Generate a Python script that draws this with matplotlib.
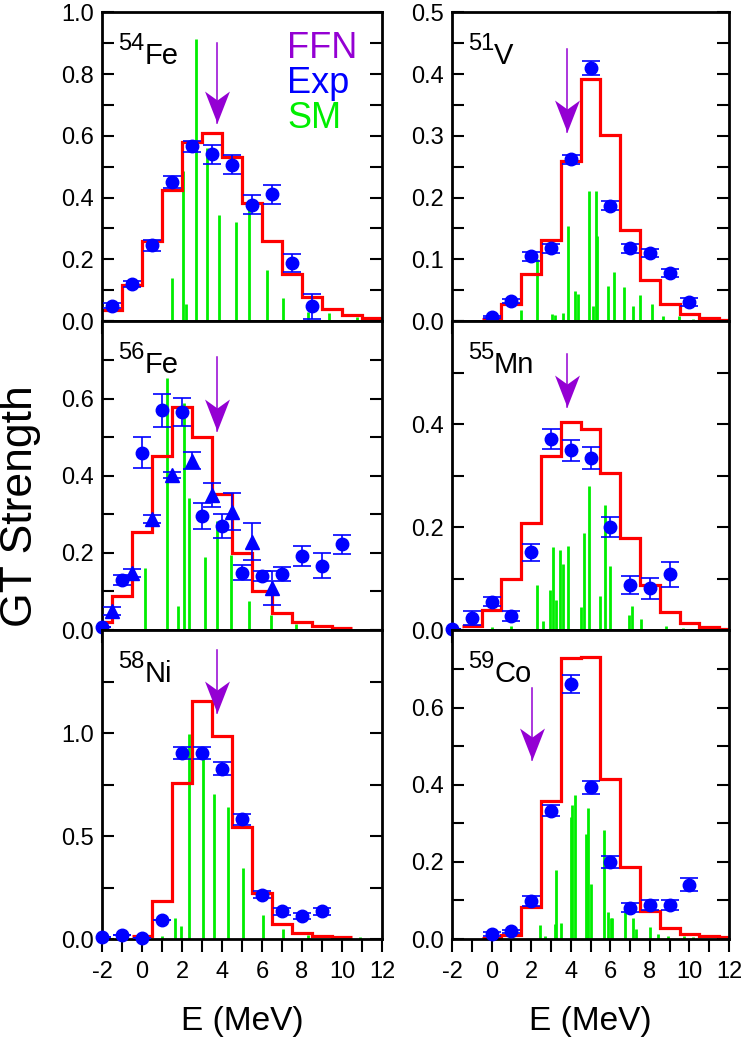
import numpy as np
import matplotlib
matplotlib.use("Agg")
import matplotlib.pyplot as plt
from matplotlib.path import Path
from matplotlib.ticker import MultipleLocator, FormatStrFormatter

plt.rcParams['font.family'] = ['Liberation Sans', 'DejaVu Sans']
plt.rcParams['axes.unicode_minus'] = False

# warna
RED = '#ff0000'
BLUE = '#0000ff'
GREEN = '#00ee00'
PURPLE = '#9400d3'

# ---------------- 54Fe ----------------
fe54_edges = [-2, -1, 0, 1, 2, 3, 4, 5, 6, 7, 8, 9, 10, 11, 12]
fe54_hist = [0.037, 0.116, 0.26, 0.423, 0.579, 0.61, 0.53, 0.384, 0.26, 0.151, 0.079, 0.038, 0.018, 0.01]
fe54_exp_x = [-1.5, -0.5, 0.5, 1.5, 2.5, 3.5, 4.5, 5.5, 6.5, 7.5, 8.5]
fe54_exp_y = [0.05, 0.12, 0.245, 0.45, 0.566, 0.54, 0.507, 0.377, 0.41, 0.188, 0.048]
fe54_exp_err = [0.008, 0.01, 0.018, 0.02, 0.018, 0.03, 0.03, 0.03, 0.03, 0.03, 0.04]
fe54_sm_x = [1.52, 2.03, 2.2, 2.68, 3.23, 3.85, 4.7, 5.37, 6.23, 7.07, 8.32, 9.37, 10.73]
fe54_sm_y = [0.138, 0.485, 0.054, 0.915, 0.561, 0.344, 0.322, 0.366, 0.165, 0.075, 0.03, 0.026, 0.013]
fe54_ffn = [3.77, 0.90, 0.642]   # x, pangkal, ujung panah
fe54_yticks = [0.0, 0.2, 0.4, 0.6, 0.8, 1.0]

# ---------------- 51V ----------------
v51_edges = [-0.5, 0.5, 1.5, 2.5, 3.5, 4.5, 5.5, 6.5, 7.5, 8.5, 9.5, 10.5, 11.5, 12]
v51_hist = [0.004, 0.027, 0.076, 0.131, 0.259, 0.392, 0.302, 0.148, 0.067, 0.028, 0.012, 0.005, 0.002]
v51_exp_x = [0, 1, 2, 3, 4, 5, 6, 7, 8, 9, 10]
v51_exp_y = [0.0065, 0.033, 0.105, 0.118, 0.262, 0.41, 0.187, 0.118, 0.11, 0.078, 0.031]
v51_exp_err = [0.002, 0.003, 0.007, 0.007, 0.007, 0.011, 0.007, 0.007, 0.007, 0.006, 0.006]
v51_sm_x = [1.51, 2.32, 3.03, 3.19, 3.63, 3.88, 4.22, 4.37, 4.92, 5.14, 5.26, 5.34, 5.88, 6.18,
            6.69, 7.14, 7.5, 8.13, 8.67, 9.46, 10.2]
v51_sm_y = [0.018, 0.101, 0.012, 0.009, 0.013, 0.154, 0.048, 0.044, 0.211, 0.025, 0.211, 0.138, 0.057, 0.079,
            0.055, 0.025, 0.043, 0.027, 0.008, 0.008, 0.004]
v51_ffn = [3.83, 0.44, 0.307]
v51_yticks = [0.0, 0.1, 0.2, 0.3, 0.4, 0.5]

# ---------------- 56Fe ----------------
fe56_edges = [-2, -1.5, -0.5, 0.5, 1.5, 2.5, 3.5, 4.5, 5.5, 6.5, 7.5, 8.5, 9.5, 10.5]
fe56_hist = [0.022, 0.089, 0.253, 0.45, 0.579, 0.5, 0.353, 0.199, 0.1, 0.043, 0.022, 0.011, 0.006]
fe56_exp_x = [-2, -1, 0, 1, 2, 3, 4, 5, 6, 7, 8, 9, 10]
fe56_exp_y = [0.009, 0.13, 0.459, 0.569, 0.565, 0.296, 0.27, 0.149, 0.14, 0.145, 0.193, 0.167, 0.222]
fe56_exp_err = [0.0, 0.013, 0.04, 0.043, 0.037, 0.033, 0.032, 0.019, 0.013, 0.018, 0.026, 0.033, 0.025]
fe56_tri_x = [-1.5, -0.5, 0.5, 1.5, 2.5, 3.5, 4.5, 5.5, 6.5]
fe56_tri_y = [0.05, 0.147, 0.288, 0.401, 0.439, 0.35, 0.307, 0.229, 0.11]
fe56_tri_err = [0.01, 0.01, 0.01, 0.008, 0.022, 0.032, 0.048, 0.048, 0.044]
fe56_sm_x = [0.15, 1.23, 1.82, 2.1, 2.37, 3.15, 3.73, 4.45, 5.37, 6.45, 7.7]
fe56_sm_y = [0.16, 0.654, 0.062, 0.589, 0.342, 0.189, 0.283, 0.195, 0.075, 0.039, 0.015]
fe56_ffn = [3.73, 0.707, 0.515]
fe56_yticks = [0.0, 0.2, 0.4, 0.6]

# ---------------- 55Mn ----------------
mn55_edges = [-1.5, -0.5, 0.5, 1.5, 2.5, 3.5, 4.5, 5.5, 6.5, 7.5, 8.5, 9.5, 10.5, 11.5, 12]
mn55_hist = [0.008, 0.038, 0.1, 0.208, 0.339, 0.404, 0.39, 0.306, 0.179, 0.088, 0.036, 0.014, 0.005, 0.002]
mn55_exp_x = [-2, -1, 0, 1, 2, 3, 4, 5, 6, 7, 8, 9]
mn55_exp_y = [0.002, 0.023, 0.055, 0.027, 0.151, 0.371, 0.349, 0.334, 0.2, 0.088, 0.081, 0.108]
mn55_exp_err = [0.0, 0.014, 0.009, 0.01, 0.016, 0.019, 0.021, 0.021, 0.02, 0.017, 0.021, 0.024]
mn55_sm_x = [0.02, 0.97, 2.29, 2.6, 2.96, 3.11, 3.24, 3.46, 3.63, 3.87, 4.5, 4.67, 4.92, 5.48,
             5.71, 5.98, 6.94, 7.11, 7.53, 8.84, 9.68]
mn55_sm_y = [0.005, 0.008, 0.088, 0.018, 0.077, 0.162, 0.058, 0.155, 0.129, 0.164, 0.045, 0.188, 0.279, 0.066,
             0.244, 0.125, 0.029, 0.047, 0.021, 0.008, 0.003]
mn55_ffn = [3.83, 0.536, 0.434]
mn55_yticks = [0.0, 0.2, 0.4]

# ---------------- 58Ni ----------------
ni58_edges = [-0.5, 0.5, 1.5, 2.5, 3.5, 4.5, 5.5, 6.5, 7.5, 8.5, 9.5, 10.5]
ni58_hist = [0.013, 0.183, 0.759, 1.158, 0.987, 0.543, 0.223, 0.073, 0.029, 0.016, 0.008]
ni58_exp_x = [-2, -1, 0, 1, 2, 3, 4, 5, 6, 7, 8, 9]
ni58_exp_y = [0.008, 0.02, 0.005, 0.09, 0.905, 0.905, 0.827, 0.582, 0.215, 0.134, 0.111, 0.134]
ni58_exp_err = [0.0, 0.0, 0.0, 0.0, 0.03, 0.03, 0.032, 0.027, 0.018, 0.016, 0.016, 0.016]
ni58_sm_x = [0.98, 1.65, 1.93, 2.37, 3.03, 3.62, 4.32, 5.07, 6.03, 7.07, 8.28, 10.9]
ni58_sm_y = [0.013, 0.101, 0.062, 0.995, 0.881, 0.705, 0.64, 0.343, 0.117, 0.049, 0.02, 0.008]
ni58_ffn = [3.73, 1.403, 1.096]
ni58_yticks = [0.0, 0.5, 1.0]

# ---------------- 59Co ----------------
co59_edges = [-0.5, 0.5, 1.5, 2.5, 3.5, 4.5, 5.5, 6.5, 7.5, 8.5, 9.5, 10.5, 11.5, 12]
co59_hist = [0.002, 0.01, 0.083, 0.358, 0.728, 0.73, 0.415, 0.187, 0.072, 0.028, 0.013, 0.009, 0.004]
co59_exp_x = [0, 1, 2, 3, 4, 5, 6, 7, 8, 9, 10]
co59_exp_y = [0.013, 0.02, 0.098, 0.333, 0.661, 0.393, 0.2, 0.081, 0.089, 0.089, 0.141]
co59_exp_err = [0.005, 0.004, 0.013, 0.015, 0.023, 0.017, 0.015, 0.012, 0.013, 0.013, 0.017]
co59_sm_x = [2.45, 2.7, 3.19, 3.24, 3.53, 4.0, 4.08, 4.22, 4.76, 4.89, 5.01, 5.68, 5.88, 6.02,
             6.1, 6.72, 7.14, 7.28, 8.03, 8.4, 8.92, 9.71, 10.2]
co59_sm_y = [0.037, 0.009, 0.04, 0.18, 0.042, 0.316, 0.348, 0.374, 0.272, 0.339, 0.143, 0.283, 0.071, 0.054,
             0.054, 0.07, 0.054, 0.026, 0.03, 0.013, 0.007, 0.007, 0.004]
co59_ffn = [2.02, 0.65, 0.465]
co59_yticks = [0.0, 0.2, 0.4, 0.6]

# bentuk kepala panah (ujung di titik 0,0)
arrow_head = Path([(0, 0), (-0.39, 1), (0, 0.72), (0.39, 1), (0, 0)],
                  [Path.MOVETO, Path.LINETO, Path.LINETO, Path.LINETO, Path.CLOSEPOLY])


def gambar_panel(ax, edges, hist, sm_x, sm_y, exp_x, exp_y, exp_err, ffn,
                 ymax, yticks, yminor, angka, unsur, label_x):
    # garis hijau SM
    ax.vlines(sm_x, 0, sm_y, color=GREEN, lw=2, zorder=1)
    # histogram merah
    ax.stairs(hist, edges, baseline=None, color=RED, lw=2.3, zorder=2)
    # data eksperimen
    eb = ax.errorbar(exp_x, exp_y, yerr=exp_err, fmt='o', color=BLUE, ms=9,
                     capsize=6.5, elinewidth=1.2, capthick=1.2, zorder=4)
    eb[0].set_clip_on(False)
    # panah FFN
    ax.plot([ffn[0], ffn[0]], [ffn[2], ffn[1]], color=PURPLE, lw=1.1, zorder=5)
    ax.plot([ffn[0]], [ffn[2]], marker=arrow_head, ms=46, color=PURPLE, mew=0, zorder=5)

    ax.set_xlim(-2, 12)
    ax.set_ylim(0, ymax)
    ax.xaxis.set_major_locator(MultipleLocator(2))
    ax.xaxis.set_minor_locator(MultipleLocator(1))
    ax.set_yticks(yticks)
    ax.yaxis.set_minor_locator(MultipleLocator(yminor))
    ax.yaxis.set_major_formatter(FormatStrFormatter('%.1f'))
    ax.tick_params(axis='y', which='both', direction='in', left=True, right=True,
                   length=8.5, width=1.5, labelsize=17, pad=6)
    ax.tick_params(axis='x', which='both', direction='out', bottom=True, top=False,
                   length=9, width=1.5, labelsize=17, pad=7, labelbottom=label_x)
    for s in ax.spines.values():
        s.set_linewidth(2)

    ax.text(0.057, 0.877, angka, transform=ax.transAxes, fontsize=17, va='baseline')
    ax.text(0.152, 0.834, unsur, transform=ax.transAxes, fontsize=21, va='baseline')


fig = plt.figure(figsize=(7.47, 10.40), dpi=100)

kiri, lebar_kiri = 0.1365, 0.3748
kanan, lebar_kanan = 0.6051, 0.3708
baris = [0.6913, 0.3942, 0.0971]
tinggi = 0.2968

ax1 = fig.add_axes([kiri, baris[0], lebar_kiri, tinggi])
ax2 = fig.add_axes([kanan, baris[0], lebar_kanan, tinggi])
ax3 = fig.add_axes([kiri, baris[1], lebar_kiri, tinggi])
ax4 = fig.add_axes([kanan, baris[1], lebar_kanan, tinggi])
ax5 = fig.add_axes([kiri, baris[2], lebar_kiri, tinggi])
ax6 = fig.add_axes([kanan, baris[2], lebar_kanan, tinggi])

gambar_panel(ax1, fe54_edges, fe54_hist, fe54_sm_x, fe54_sm_y, fe54_exp_x, fe54_exp_y, fe54_exp_err,
             fe54_ffn, 1.0, fe54_yticks, 0.1, '54', 'Fe', False)
gambar_panel(ax2, v51_edges, v51_hist, v51_sm_x, v51_sm_y, v51_exp_x, v51_exp_y, v51_exp_err,
             v51_ffn, 0.5, v51_yticks, 0.05, '51', 'V', False)
gambar_panel(ax3, fe56_edges, fe56_hist, fe56_sm_x, fe56_sm_y, fe56_exp_x, fe56_exp_y, fe56_exp_err,
             fe56_ffn, 0.8, fe56_yticks, 0.1, '56', 'Fe', False)
# segitiga pada 56Fe
eb = ax3.errorbar(fe56_tri_x, fe56_tri_y, yerr=fe56_tri_err, fmt='^', color=BLUE, ms=9.5,
                  capsize=6.5, elinewidth=1.2, capthick=1.2, zorder=4)
gambar_panel(ax4, mn55_edges, mn55_hist, mn55_sm_x, mn55_sm_y, mn55_exp_x, mn55_exp_y, mn55_exp_err,
             mn55_ffn, 0.6, mn55_yticks, 0.1, '55', 'Mn', False)
gambar_panel(ax5, ni58_edges, ni58_hist, ni58_sm_x, ni58_sm_y, ni58_exp_x, ni58_exp_y, ni58_exp_err,
             ni58_ffn, 1.5, ni58_yticks, 0.25, '58', 'Ni', True)
gambar_panel(ax6, co59_edges, co59_hist, co59_sm_x, co59_sm_y, co59_exp_x, co59_exp_y, co59_exp_err,
             co59_ffn, 0.8, co59_yticks, 0.1, '59', 'Co', True)

# keterangan warna
ax1.text(0.661, 0.851, 'FFN', color=PURPLE, fontsize=26, transform=ax1.transAxes, va='baseline')
ax1.text(0.661, 0.740, 'Exp', color=BLUE, fontsize=26, transform=ax1.transAxes, va='baseline')
ax1.text(0.661, 0.627, 'SM', color=GREEN, fontsize=26, transform=ax1.transAxes, va='baseline')

fig.text(0.027, 0.513, 'GT Strength', rotation=90, fontsize=32, ha='center', va='center')
fig.text(0.324, 0.0096, 'E (MeV)', fontsize=24, ha='center', va='baseline')
fig.text(0.790, 0.0096, 'E (MeV)', fontsize=24, ha='center', va='baseline')

fig.savefig('out.png', dpi=100)
